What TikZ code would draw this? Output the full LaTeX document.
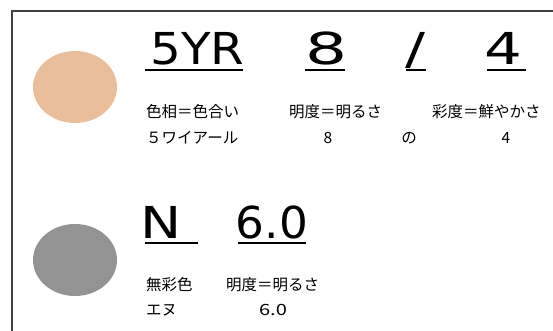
\documentclass[tikz,border=0pt]{standalone}
\usepackage{fontspec}
\setmainfont{DejaVu Sans}
\newfontfamily\jpfont{Noto Sans CJK JP}
\newfontfamily\bigfont{DejaVu Sans}
\definecolor{skin}{RGB}{235,190,155}
\definecolor{neutral}{RGB}{147,147,147}
\definecolor{framec}{RGB}{64,64,64}
\newcommand{\bigtxt}[2]{\scalebox{#1}[1]{\bigfont\fontsize{44}{44}\selectfont #2}}
\tikzset{
  big/.style={inner sep=0pt, anchor=base},
  small/.style={inner sep=0pt, anchor=base west, font=\jpfont\fontsize{15.5}{16}\selectfont},
  smallc/.style={inner sep=0pt, anchor=base, font=\jpfont\fontsize{15.5}{16}\selectfont},
  uline/.style={line width=2pt, black},
  swatch/.style={ellipse, draw=none, minimum width=84pt, minimum height=72pt, inner sep=0pt}
}
\usetikzlibrary{shapes.geometric}
\begin{document}
\begin{tikzpicture}[x=1pt,y=-1pt]
\useasboundingbox (0,0) rectangle (553,331);
\fill[white] (0,0) rectangle (553,331);
% frame
\draw[framec, line width=1.6pt] (12,331) -- (12,11) -- (553,11);
% swatches
\node[swatch, fill=skin] (sw1) at (75,87) {};
\node[swatch, fill=neutral] (sw2) at (75,260) {};
% top notation
\node[big] (hue) at (197.5,65) {\bigtxt{1.1}{5YR}};
\node[big] (val) at (326.5,65) {\bigtxt{1.5}{8}};
\node[big] (sl) at (415,65) {\bigtxt{1.35}{/}};
\node[big] (chr) at (503.5,65) {\bigtxt{1.35}{4}};
\draw[uline] (145,70) -- (243,70);
\draw[uline] (305,70) -- (345,70);
\draw[uline] (406,70) -- (426,70);
\draw[uline] (487,70) -- (526,70);
% top labels
\node[small] (l1) at (146,118) {色相＝色合い};
\node[small] (l2) at (289,118) {明度＝明るさ};
\node[small] (l3) at (432,118) {彩度＝鮮やかさ};
\node[small] (r1) at (146,143) {５ワイアール};
\node[smallc] (r2) at (328,143) {8};
\node[smallc] (r3) at (409,143) {の};
\node[smallc] (r4) at (506,143) {4};
% bottom notation
\node[big] (n) at (161,238) {\bigtxt{1.25}{N}};
\node[big] (nv) at (272,238) {\bigtxt{1.03}{6.0}};
\draw[uline] (145,243) -- (198,243);
\draw[uline] (238,243) -- (306,243);
% bottom labels
\node[small] (m1) at (146,290) {無彩色};
\node[small] (m2) at (226,290) {明度＝明るさ};
\node[small] (n1) at (146,315) {エヌ};
\node[smallc] (n2) at (273,315) {\scalebox{1.3}[1]{6.0}};
\end{tikzpicture}
\end{document}
